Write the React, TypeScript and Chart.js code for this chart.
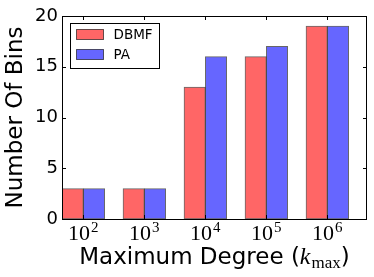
import React, { useEffect, useRef } from 'react';
import { Chart, registerables } from 'chart.js';

Chart.register(...registerables);

const xTickBase = '10';
const xTickExponents = ['2', '3', '4', '5', '6'];
const seriesLabels = ['DBMF', 'PA'];
const dbmfValues = [3, 3, 13, 16, 19];
const paValues = [3, 3, 16, 17, 19];
const yTickValues = [0, 5, 10, 15, 20];
const yTitle = 'Number Of Bins';
const xTitleMain = 'Maximum Degree (';
const xTitleVar = 'k';
const xTitleSub = 'max';
const xTitleEnd = ')';

const BAR_W = 0.35;
const RED = '#ff6666';
const BLUE = '#6666ff';
const EDGE = 'rgba(0,0,0,0.6)';

const decorPlugin = {
  id: 'decor',
  afterDatasetsDraw(chart: any) {
    const { ctx, chartArea: a, scales } = chart;
    const tl = 4;
    ctx.save();
    ctx.strokeStyle = '#000';
    ctx.lineWidth = 1;
    ctx.beginPath();
    scales.x.ticks.forEach((t: any) => {
      const px = Math.round(scales.x.getPixelForValue(t.value)) + 0.5;
      ctx.moveTo(px, a.bottom);
      ctx.lineTo(px, a.bottom - tl);
      ctx.moveTo(px, a.top);
      ctx.lineTo(px, a.top + tl);
    });
    scales.y.ticks.forEach((t: any) => {
      const py = Math.round(scales.y.getPixelForValue(t.value)) + 0.5;
      ctx.moveTo(a.left, py);
      ctx.lineTo(a.left + tl, py);
      ctx.moveTo(a.right, py);
      ctx.lineTo(a.right - tl, py);
    });
    ctx.stroke();
    ctx.strokeRect(a.left + 0.5, a.top + 0.5, a.right - a.left - 1, a.bottom - a.top);
    ctx.restore();
  },
  afterDraw(chart: any) {
    const { ctx, chartArea: a, scales } = chart;
    ctx.save();
    // x tick labels: base with raised exponent
    const fBase = '22px "Liberation Serif"';
    const fExp = '15px "Liberation Serif"';
    ctx.fillStyle = '#000';
    ctx.textBaseline = 'alphabetic';
    ctx.textAlign = 'left';
    scales.x.ticks.forEach((t: any, i: number) => {
      const px = scales.x.getPixelForValue(t.value);
      ctx.font = fBase;
      const wb = ctx.measureText(xTickBase).width;
      ctx.font = fExp;
      const we = ctx.measureText(xTickExponents[i]).width;
      const sx = px - (wb + we + 1) / 2;
      ctx.font = fBase;
      ctx.fillText(xTickBase, sx, a.bottom + 21);
      ctx.font = fExp;
      ctx.fillText(xTickExponents[i], sx + wb + 1, a.bottom + 13);
    });
    // legend
    const lx = a.left + 8.5;
    const ly = a.top + 7.5;
    const lw = 89;
    const lh = 45;
    ctx.fillStyle = '#fff';
    ctx.fillRect(lx, ly, lw, lh);
    ctx.strokeStyle = '#000';
    ctx.lineWidth = 1;
    ctx.strokeRect(lx, ly, lw, lh);
    chart.data.datasets.forEach((ds: any, i: number) => {
      const sy = ly + 6 + i * 20;
      ctx.fillStyle = ds.backgroundColor;
      ctx.fillRect(lx + 6, sy, 27, 10);
      ctx.strokeStyle = EDGE;
      ctx.strokeRect(lx + 6, sy, 27, 10);
      ctx.fillStyle = '#000';
      ctx.font = '13.5px "DejaVu Sans"';
      ctx.textBaseline = 'middle';
      ctx.textAlign = 'left';
      ctx.fillText(ds.label, lx + 43, sy + 5.5);
    });
    // x title
    const fMain = '23px "DejaVu Sans"';
    const fVar = 'italic 24px "Liberation Serif"';
    const fSub = '17px "Liberation Serif"';
    ctx.font = fMain;
    const w1 = ctx.measureText(xTitleMain).width;
    const w4 = ctx.measureText(xTitleEnd).width;
    ctx.font = fVar;
    const w2 = ctx.measureText(xTitleVar).width + 1;
    ctx.font = fSub;
    const w3 = ctx.measureText(xTitleSub).width;
    const total = w1 + w2 + w3 + w4;
    let x = (a.left + a.right) / 2 - total / 2;
    const base = 264;
    ctx.textBaseline = 'alphabetic';
    ctx.textAlign = 'left';
    ctx.fillStyle = '#000';
    ctx.font = fMain;
    ctx.fillText(xTitleMain, x, base);
    x += w1;
    ctx.font = fVar;
    ctx.fillText(xTitleVar, x, base);
    x += w2;
    ctx.font = fSub;
    ctx.fillText(xTitleSub, x, base + 4);
    x += w3;
    ctx.font = fMain;
    ctx.fillText(xTitleEnd, x, base);
    ctx.restore();
  },
};

export default function App() {
  const ref = useRef<HTMLCanvasElement | null>(null);
  useEffect(() => {
    if (!ref.current) return;
    const chart = new Chart(ref.current, {
      type: 'bar',
      data: {
        datasets: [
          {
            label: seriesLabels[0],
            data: dbmfValues.map((v, i) => ({ x: i + BAR_W / 2, y: v })),
            backgroundColor: RED,
            borderColor: EDGE,
            borderWidth: 1,
            borderSkipped: false,
            grouped: false,
            barPercentage: 1,
            categoryPercentage: 1,
          } as any,
          {
            label: seriesLabels[1],
            data: paValues.map((v, i) => ({ x: i + BAR_W * 1.5, y: v })),
            backgroundColor: BLUE,
            borderColor: EDGE,
            borderWidth: 1,
            borderSkipped: false,
            grouped: false,
            barPercentage: 1,
            categoryPercentage: 1,
          } as any,
        ],
      },
      options: {
        animation: false,
        responsive: false,
        devicePixelRatio: 1,
        layout: { padding: { top: 16, right: 7, left: 0, bottom: 0 } },
        plugins: { legend: { display: false }, tooltip: { enabled: false } },
        scales: {
          x: {
            type: 'linear',
            min: 0,
            max: xTickExponents.length,
            offset: false,
            grid: { display: false, drawTicks: false },
            border: { display: false },
            afterBuildTicks: (s: any) => {
              s.ticks = xTickExponents.map((_, i) => ({ value: i + BAR_W }));
            },
            afterFit: (s: any) => {
              s.height = 58;
            },
            ticks: { display: false, autoSkip: false },
          },
          y: {
            min: 0,
            max: 20,
            grid: { display: false, drawTicks: false },
            border: { display: false },
            afterBuildTicks: (s: any) => {
              s.ticks = yTickValues.map((v) => ({ value: v }));
            },
            afterFit: (s: any) => {
              s.width = 62;
            },
            ticks: {
              padding: 4,
              color: '#000',
              font: { family: '"DejaVu Sans"', size: 18 },
            },
            title: {
              display: true,
              text: yTitle,
              color: '#000',
              font: { family: '"DejaVu Sans"', size: 23 },
              padding: { top: 2, bottom: 0 },
            },
          },
        },
      } as any,
      plugins: [decorPlugin],
    });
    return () => chart.destroy();
  }, []);
  return (
    <div style={{ position: 'absolute', left: 0, top: 0, width: 374, height: 277, background: '#fff' }}>
      <canvas ref={ref} width={374} height={277} style={{ display: 'block' }} />
    </div>
  );
}
